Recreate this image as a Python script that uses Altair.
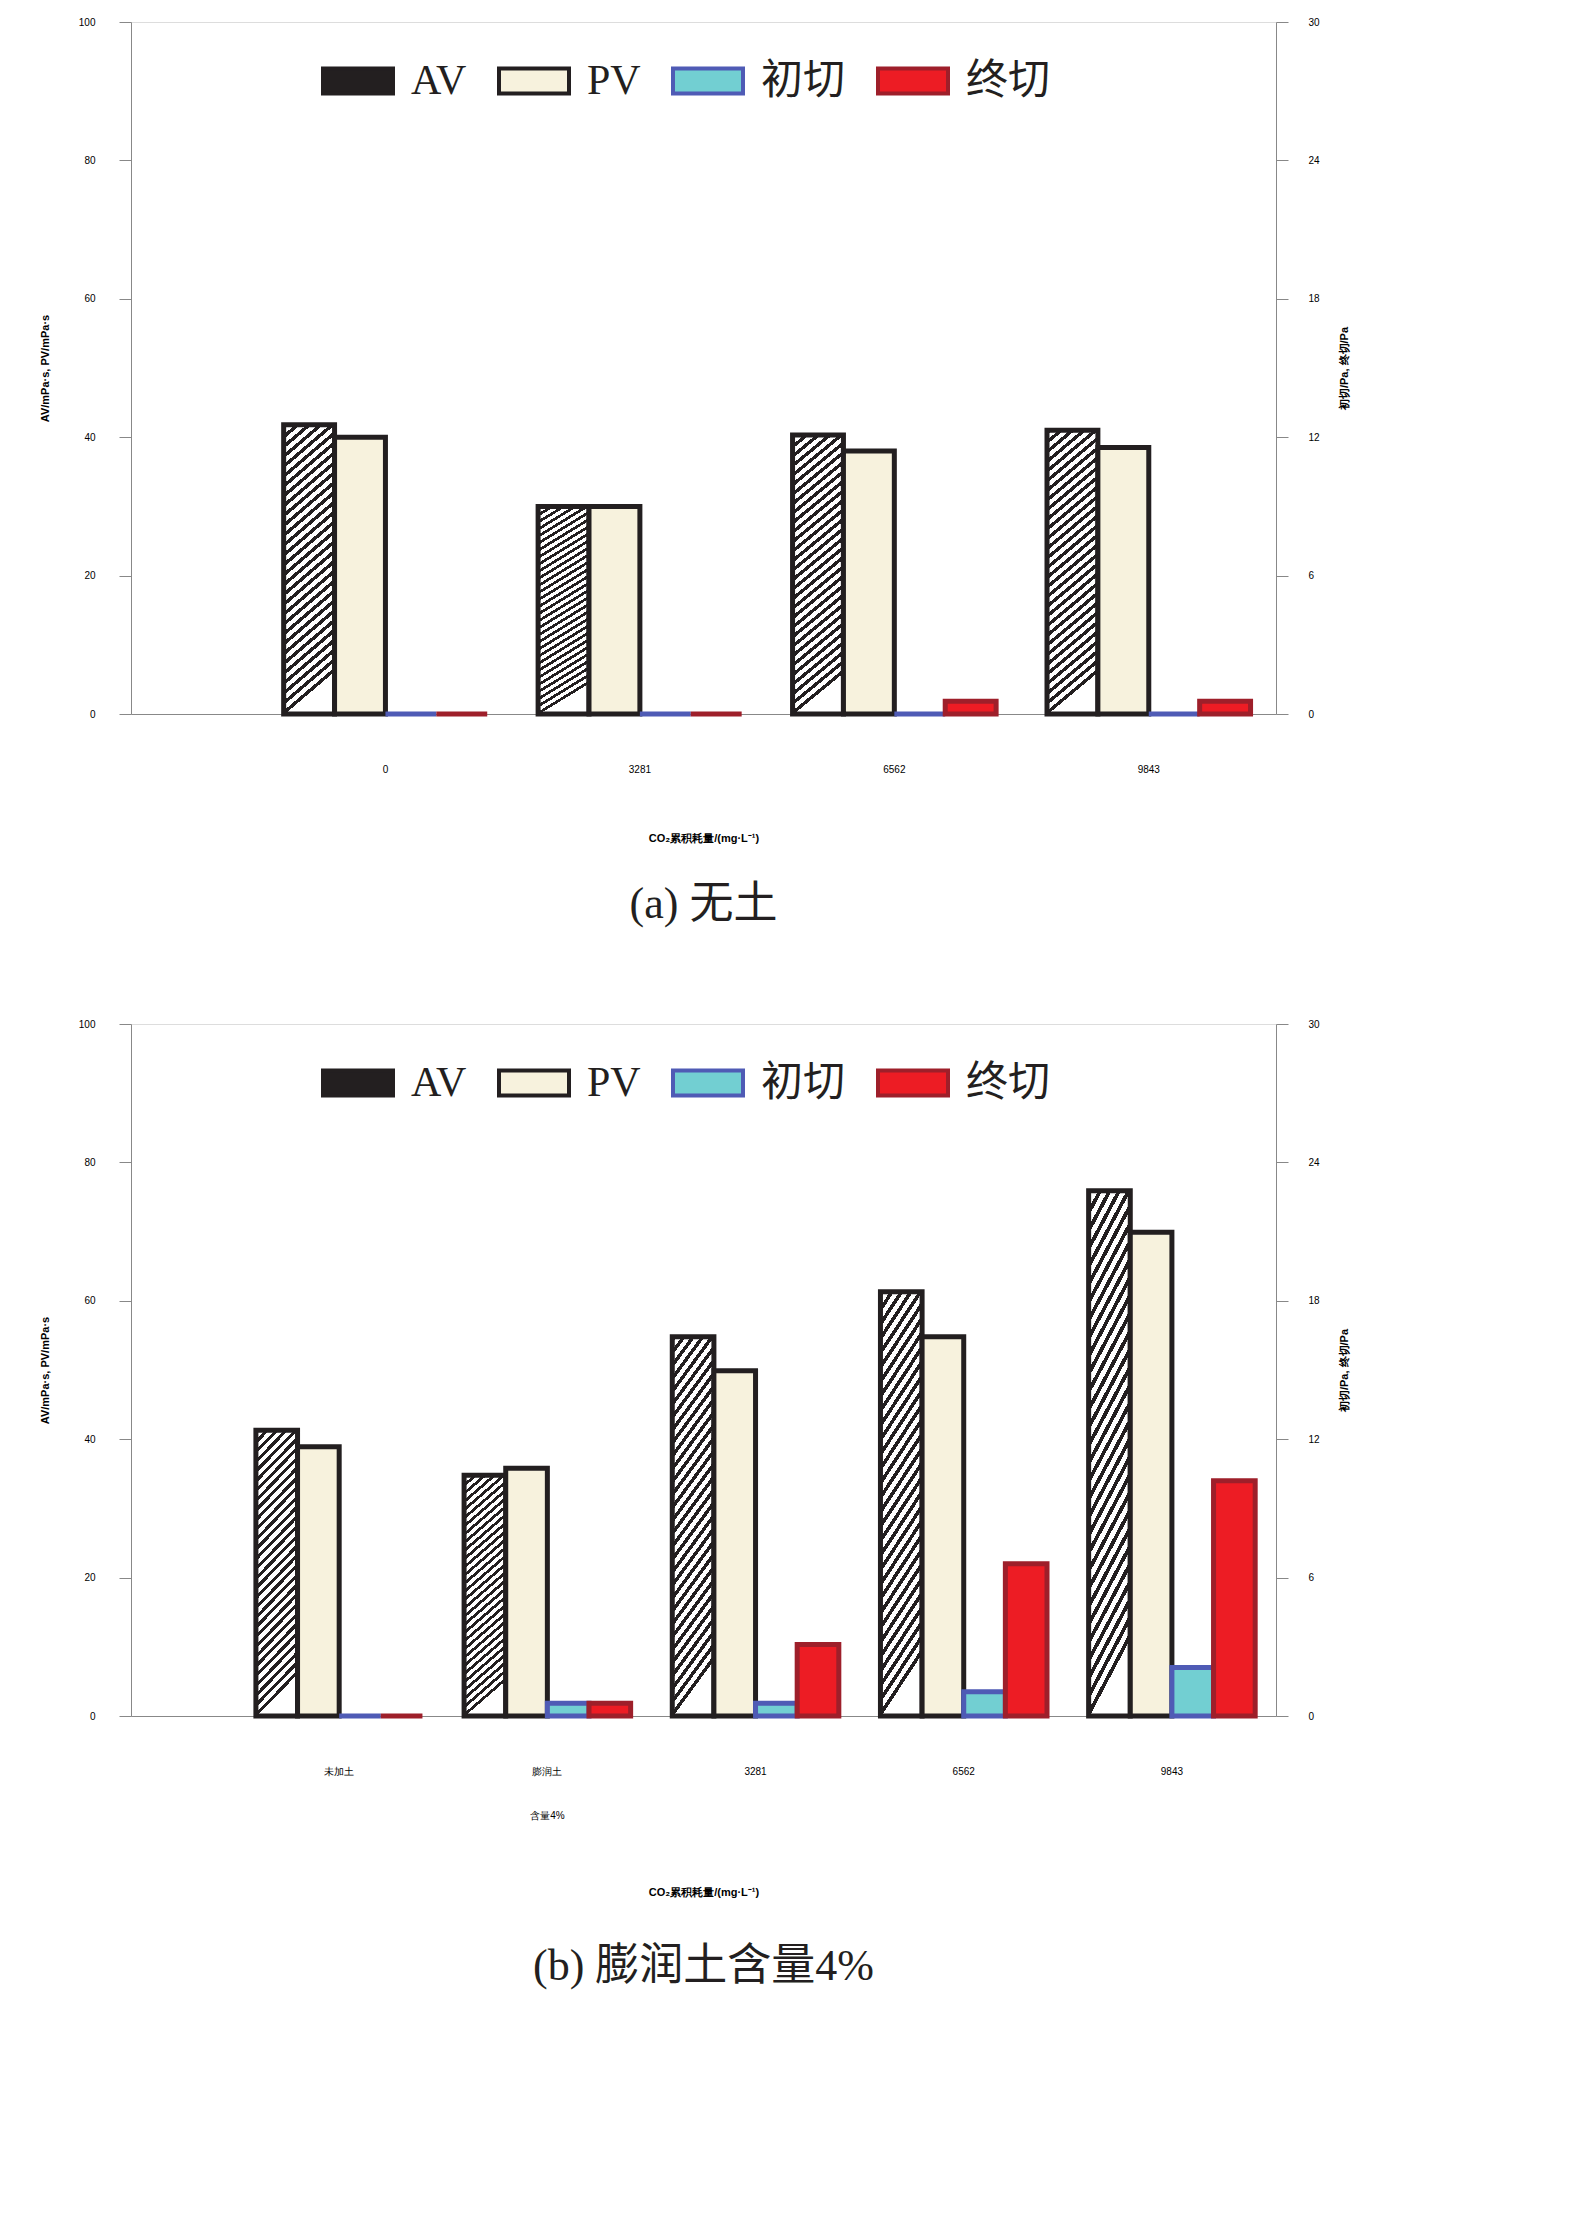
import altair as alt
import pandas as pd

series = ["AV", "PV", "初切", "终切"]
fills = ["#231f20", "#f7f2dd", "#72cfd2", "#ed1c24"]
strokes = ["#231f20", "#231f20", "#4f5bb5", "#9e1f2a"]

# panel a
cats_a = ["0", "3281", "6562", "9843"]
av_a = [41.8, 30.0, 40.3, 41.0]
pv_a = [40.0, 30.0, 38.0, 38.5]
g0_a = [0.0, 0.0, 0.0, 0.0]
g10_a = [0.0, 0.0, 0.55, 0.55]

# panel b
cats_b = ["未加土", "膨润土\n含量4%", "3281", "6562", "9843"]
av_b = [41.3, 34.8, 54.8, 61.3, 75.9]
pv_b = [38.9, 35.8, 49.9, 54.8, 69.9]
g0_b = [0.0, 0.55, 0.55, 1.05, 2.1]
g10_b = [0.0, 0.55, 3.1, 6.6, 10.2]

FONT = "Liberation Serif, Noto Sans CJK SC"


def stripes(n, frac=0.45):
    stops = []
    for i in range(n):
        stops += [
            {"offset": i / n, "color": "#231f20"},
            {"offset": (i + frac) / n, "color": "#231f20"},
            {"offset": (i + frac) / n, "color": "#ffffff"},
            {"offset": (i + 1) / n, "color": "#ffffff"},
        ]
    return stops


bar_grad = {"gradient": "linear", "x1": 0, "y1": 0, "x2": 0.15, "y2": 1, "stops": stripes(30)}


def long_df(cats, av, pv, g0, g10):
    rows = []
    for i, c in enumerate(cats):
        for s, v in zip(series, [av[i], pv[i], g0[i], g10[i]]):
            rows.append({"cat": c, "s": s, "v": v})
    return pd.DataFrame(rows)


def make_legend():
    return alt.Legend(
        title=None, orient="none", legendX=190, legendY=22,
        direction="horizontal", columns=4, columnPadding=24,
        symbolType="M-1,-0.36H1V0.36H-1Z", symbolSize=4900,
        symbolStrokeWidth=4, labelFontSize=42, labelOffset=16,
        labelFont=FONT, labelColor="#231f20", symbolOpacity=1,
    )


def panel(cats, av, pv, g0, g10, caption, title_pad, cap_off):
    df = long_df(cats, av, pv, g0, g10)
    x = alt.X(
        "cat:N", sort=cats,
        scale=alt.Scale(paddingInner=0, paddingOuter=0.25, align=1),
        axis=alt.Axis(
            title="CO₂累积耗量/(mg·L⁻¹)", labelAngle=0, ticks=False,
            labelExpr="split(datum.label, '\\n')", labelPadding=50,
            labelBaseline="top", labelLineHeight=44, titlePadding=title_pad,
        ),
    )
    xo = alt.XOffset("s:N", sort=series, scale=alt.Scale(domain=series, paddingOuter=0.5))
    fill = alt.condition(
        alt.datum.s == "AV",
        alt.value(bar_grad),
        alt.Fill("s:N", sort=series, scale=alt.Scale(domain=series, range=fills),
                 legend=make_legend()),
    )
    stroke = alt.Stroke("s:N", sort=series, scale=alt.Scale(domain=series, range=strokes),
                        legend=make_legend())

    base = alt.Chart(df).mark_bar(strokeWidth=5, opacity=1, fillOpacity=1)
    visc = base.transform_filter(alt.FieldOneOfPredicate(field="s", oneOf=["AV", "PV"])).encode(
        x=x, xOffset=xo, fill=fill, stroke=stroke,
        y=alt.Y("v:Q", scale=alt.Scale(domain=[0, 100]),
                axis=alt.Axis(title="AV/mPa·s, PV/mPa·s", values=[0, 20, 40, 60, 80, 100],
                              grid=False, tickSize=12, labelPadding=24, titlePadding=28)),
    )
    shear = base.transform_filter(alt.FieldOneOfPredicate(field="s", oneOf=["初切", "终切"])).encode(
        x=x, xOffset=xo, fill=fill, stroke=stroke,
        y=alt.Y("v:Q", scale=alt.Scale(domain=[0, 30]),
                axis=alt.Axis(title="初切/Pa, 终切/Pa", orient="right", values=[0, 6, 12, 18, 24, 30],
                              grid=False, tickSize=12, labelPadding=20, titlePadding=30,
                              titleAngle=270)),
    )
    return (
        alt.layer(visc, shear)
        .resolve_scale(y="independent")
        .properties(
            width=1145, height=692,
            title=alt.TitleParams(caption, orient="bottom", offset=cap_off,
                                  fontSize=44, fontWeight="normal", font=FONT, color="#231f20"),
        )
    )


pa = panel(cats_a, av_a, pv_a, g0_a, g10_a, "(a) 无土", 58, 40)
pb = panel(cats_b, av_b, pv_b, g0_b, g10_b, "(b) 膨润土含量4%", 66, 48)

chart = (
    alt.vconcat(pa, pb, spacing=90)
    .resolve_scale(fill="independent", stroke="independent", x="independent", xOffset="independent")
    .configure_view(stroke=None)
    .configure_axis(
        labelFont=FONT, titleFont=FONT, labelFontSize=44, titleFontSize=44,
        titleFontWeight="normal", labelColor="#231f20", titleColor="#231f20",
        domainColor="#231f20", tickColor="#231f20", domainWidth=4, tickWidth=4,
    )
    .configure(padding={"left": 30, "top": 8, "right": 10, "bottom": 10})
)

chart.save("out.html", embed_options={"renderer": "svg", "actions": False})
